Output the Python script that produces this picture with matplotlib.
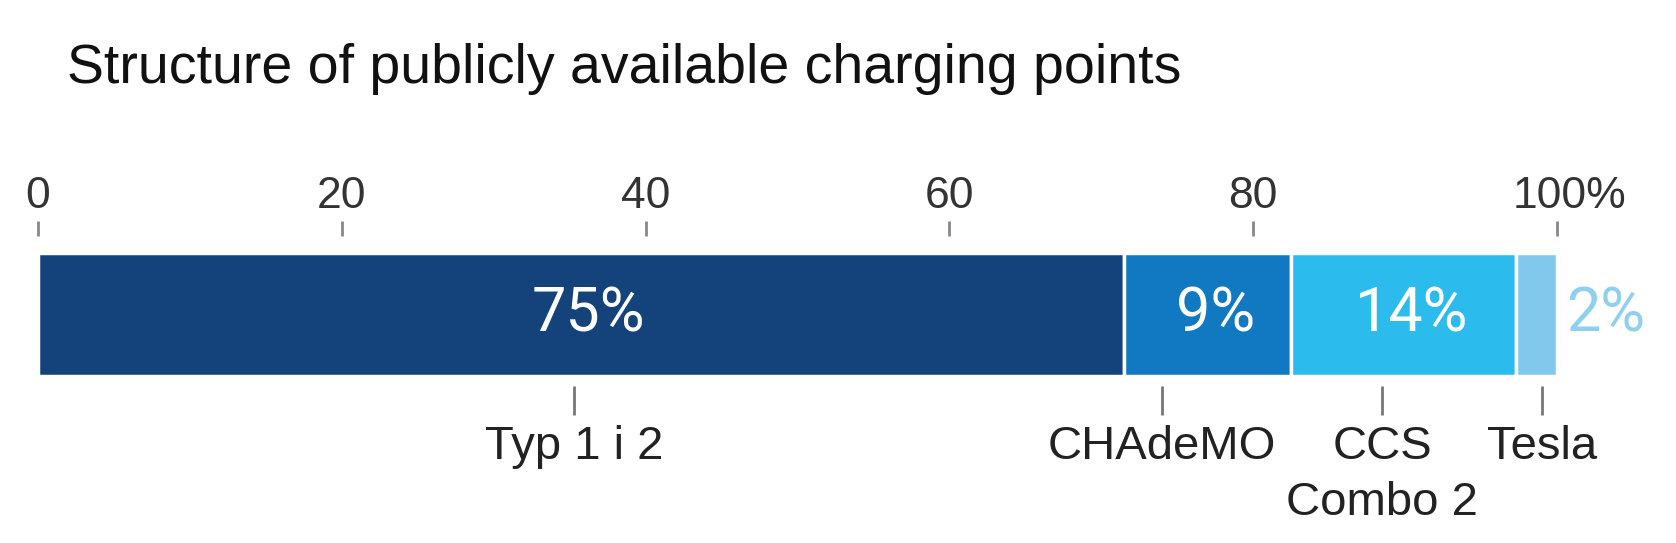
import matplotlib
matplotlib.use("Agg")
import matplotlib.pyplot as plt
import matplotlib.transforms as mtransforms

# ---- data ----
categories = ["Typ 1 i 2", "CHAdeMO", "CCS\nCombo 2", "Tesla"]
widths = [71.5, 11.0, 14.8, 2.7]          # bar segment widths as drawn
pct_labels = ["75%", "9%", "14%", "2%"]   # printed shares
marker_pos = [35.3, 74.0, 88.5, 99.0]     # where the category pointers sit
axis_ticks = [0, 20, 40, 60, 80, 100]
axis_tick_labels = ["0", "20", "40", "60", "80", "100%"]
title = "Structure of publicly available charging points"

colors = ["#14427a", "#1079c1", "#2bbbec", "#82c8ec"]
label_colors = ["white", "white", "white", "#8fd0f0"]

narrow = ["Liberation Sans", "DejaVu Sans"]
pctfont = ["Roboto", "DejaVu Sans"]

W, H = 1676, 543
fig = plt.figure(figsize=(W / 100, H / 100), dpi=100)
x0, x1 = 38, 1557
ytop, ybot = 253, 376
ax = fig.add_axes([x0 / W, 1 - ybot / H, (x1 - x0) / W, (ybot - ytop) / H])
ax.set_xlim(0, 100)
ax.set_ylim(0, 1)

left = 0
for w, c, lab, lc in zip(widths, colors, pct_labels, label_colors):
    ax.barh(0.5, w, left=left, height=1.0, color=c, edgecolor="white",
            linewidth=2.5)
    if lc == "white":
        ax.text(left + w / 2 + 0.5, 0.5, lab, ha="center", va="center", color=lc,
                fontsize=44, family=pctfont)
    else:
        ax.text(left + w + 0.6, 0.5, lab, ha="left", va="center", color=lc,
                fontsize=44, family=pctfont)
    left += w

for s in ax.spines.values():
    s.set_visible(False)
ax.set_yticks([])

# top axis
ax.xaxis.set_ticks_position("top")
ax.spines["top"].set_position(("outward", 12))
ax.set_xticks(axis_ticks)
ax.set_xticklabels(axis_tick_labels, family=narrow, fontsize=32, color="#333333")
ax.tick_params(axis="x", which="major", top=True, bottom=False, labeltop=True,
               labelbottom=False, length=11, width=2, color="#888888", pad=3)
lbls = ax.get_xticklabels()
lbls[-1].set_transform(lbls[-1].get_transform() +
                       mtransforms.ScaledTranslation(12 / 100, 0, fig.dpi_scale_trans))

# bottom category axis
sec = ax.secondary_xaxis("bottom")
sec.spines["bottom"].set_visible(False)
sec.spines["bottom"].set_position(("outward", 7))
sec.set_xticks(marker_pos)
sec.set_xticklabels(categories, family=narrow, fontsize=34, color="#222222",
                    linespacing=1.35)
sec.tick_params(axis="x", length=21, width=2, color="#777777", pad=7)

fig.text(67 / W, 1 - 83 / H, title, ha="left", va="baseline", fontsize=40,
         family=narrow, color="#111111")

fig.savefig("out.png", dpi=100, facecolor="white")
